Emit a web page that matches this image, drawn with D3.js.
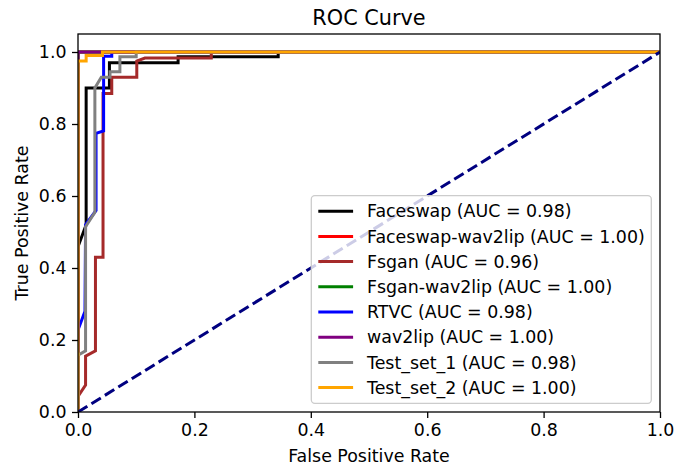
<!DOCTYPE html>
<html>
<head>
<meta charset="utf-8">
<script src="https://cdn.jsdelivr.net/npm/d3@7"></script>
<style>
  body { margin: 0; background: #fff; }
  svg { font-family: "DejaVu Sans", sans-serif; }
</style>
</head>
<body>
<svg id="roc"></svg>
<script>
// ROC points (fpr, tpr pairs)
const faceswapFpr = [0, 0, 0.014, 0.014, 0.054, 0.054, 0.172, 0.172, 0.344, 0.344, 1];
const faceswapTpr = [0, 0.459, 0.52, 0.9, 0.9, 0.97, 0.97, 0.987, 0.987, 1, 1];
const faceswapW2lFpr = [0, 0, 1];
const faceswapW2lTpr = [0, 1, 1];
const fsganFpr = [0, 0, 0.013, 0.013, 0.03, 0.03, 0.043, 0.043, 0.058, 0.058, 0.101, 0.101, 0.115, 0.229, 0.229, 1];
const fsganTpr = [0, 0.043, 0.075, 0.155, 0.17, 0.43, 0.43, 0.885, 0.885, 0.93, 0.93, 0.975, 0.983, 0.983, 1, 1];
const fsganW2lFpr = [0, 0, 1];
const fsganW2lTpr = [0, 1, 1];
const rtvcFpr = [0, 0, 0.012, 0.013, 0.031, 0.031, 0.044, 0.044, 0.058, 0.058, 1];
const rtvcTpr = [0, 0.228, 0.28, 0.52, 0.56, 0.774, 0.781, 0.988, 0.988, 1, 1];
const wav2lipFpr = [0, 0, 1];
const wav2lipTpr = [0, 1, 1];
const test1Fpr = [0, 0, 0.013, 0.013, 0.029, 0.029, 0.04, 0.055, 0.055, 0.072, 0.072, 0.1, 0.1, 1];
const test1Tpr = [0, 0.158, 0.17, 0.515, 0.555, 0.9, 0.93, 0.93, 0.945, 0.945, 0.987, 0.987, 1, 1];
const test2Fpr = [0, 0, 0.014, 0.014, 0.042, 0.042, 1];
const test2Tpr = [0, 0.975, 0.975, 0.99, 0.99, 1, 1];

const seriesNames = ["Faceswap", "Faceswap-wav2lip", "Fsgan", "Fsgan-wav2lip", "RTVC", "wav2lip", "Test_set_1", "Test_set_2"];
const seriesAuc = ["0.98", "1.00", "0.96", "1.00", "0.98", "1.00", "0.98", "1.00"];
const seriesColors = ["black", "red", "brown", "green", "blue", "purple", "gray", "orange"];
const seriesFpr = [faceswapFpr, faceswapW2lFpr, fsganFpr, fsganW2lFpr, rtvcFpr, wav2lipFpr, test1Fpr, test2Fpr];
const seriesTpr = [faceswapTpr, faceswapW2lTpr, fsganTpr, fsganW2lTpr, rtvcTpr, wav2lipTpr, test1Tpr, test2Tpr];

const xTicks = [0, 0.2, 0.4, 0.6, 0.8, 1.0];
const yTicks = [0, 0.2, 0.4, 0.6, 0.8, 1.0];

const width = 699, height = 471;
const margin = {top: 34, right: 39, bottom: 59, left: 78};
const fs = 17.4; // 10pt at this figure's dpi

const svg = d3.select("#roc").attr("width", width).attr("height", height);

const x = d3.scaleLinear().domain([0, 1]).range([margin.left, width - margin.right]);
const y = d3.scaleLinear().domain([0, 1.05]).range([height - margin.bottom, margin.top]);

svg.append("clipPath").attr("id", "plotClip")
  .append("rect")
  .attr("x", margin.left).attr("y", margin.top)
  .attr("width", x(1) - x(0)).attr("height", y(0) - y(1.05));

const line = d3.line().x(d => x(d[0])).y(d => y(d[1]));

const plot = svg.append("g").attr("clip-path", "url(#plotClip)");

seriesNames.forEach((name, i) => {
  const pts = seriesFpr[i].map((f, j) => [f, seriesTpr[i][j]]);
  plot.append("path")
    .datum(pts)
    .attr("d", line)
    .attr("fill", "none")
    .attr("stroke", seriesColors[i])
    .attr("stroke-width", 3)
    .attr("stroke-linejoin", "miter")
    .attr("stroke-linecap", "square");
});

// chance line
plot.append("path")
  .datum([[0, 0], [1, 1]])
  .attr("d", line)
  .attr("fill", "none")
  .attr("stroke", "navy")
  .attr("stroke-width", 3)
  .attr("stroke-dasharray", "11,4.8");

// axes
const xAxis = svg.append("g")
  .attr("transform", `translate(0,${y(0)})`)
  .call(d3.axisBottom(x).tickValues(xTicks).tickFormat(d3.format(".1f")).tickSize(6).tickPadding(5.5));
const yAxis = svg.append("g")
  .attr("transform", `translate(${x(0)},0)`)
  .call(d3.axisLeft(y).tickValues(yTicks).tickFormat(d3.format(".1f")).tickSize(6).tickPadding(5.5));
[xAxis, yAxis].forEach(g => {
  g.select(".domain").remove();
  g.selectAll("line").attr("stroke", "#000").attr("stroke-width", 1.3);
  g.selectAll("text").attr("font-size", fs + "px").attr("fill", "#000")
    .attr("font-family", "DejaVu Sans, sans-serif");
});

// frame
svg.append("rect")
  .attr("x", x(0)).attr("y", y(1.05))
  .attr("width", x(1) - x(0)).attr("height", y(0) - y(1.05))
  .attr("fill", "none").attr("stroke", "#000").attr("stroke-width", 1.3);

// labels
svg.append("text")
  .attr("x", (x(0) + x(1)) / 2).attr("y", 24.5)
  .attr("text-anchor", "middle").attr("font-size", "20.8px")
  .text("ROC Curve");
svg.append("text")
  .attr("x", (x(0) + x(1)) / 2).attr("y", 462)
  .attr("text-anchor", "middle").attr("font-size", fs + "px")
  .text("False Positive Rate");
svg.append("text")
  .attr("transform", `translate(28,${(y(0) + y(1.05)) / 2}) rotate(-90)`)
  .attr("text-anchor", "middle").attr("font-size", fs + "px")
  .text("True Positive Rate");

// legend
const rowH = 25.2;
const legW = 340, legH = seriesNames.length * rowH + 6;
const legX = x(1) - 8.7 - legW, legY = y(0) - 8.7 - legH;
const legend = svg.append("g");
legend.append("rect")
  .attr("x", legX).attr("y", legY)
  .attr("width", legW).attr("height", legH)
  .attr("rx", 3.5).attr("ry", 3.5)
  .attr("fill", "#fff").attr("fill-opacity", 0.8)
  .attr("stroke", "#ccc").attr("stroke-width", 1.3);

seriesNames.forEach((name, i) => {
  const cy = legY + 15.5 + i * rowH;
  legend.append("line")
    .attr("x1", legX + 7).attr("x2", legX + 7 + 2 * fs)
    .attr("y1", cy).attr("y2", cy)
    .attr("stroke", seriesColors[i]).attr("stroke-width", 3);
  legend.append("text")
    .attr("x", legX + 7 + 2 * fs + 13.9).attr("y", cy)
    .attr("dy", "0.36em")
    .attr("font-size", fs + "px")
    .text(`${name} (AUC = ${seriesAuc[i]})`);
});
</script>
</body>
</html>
